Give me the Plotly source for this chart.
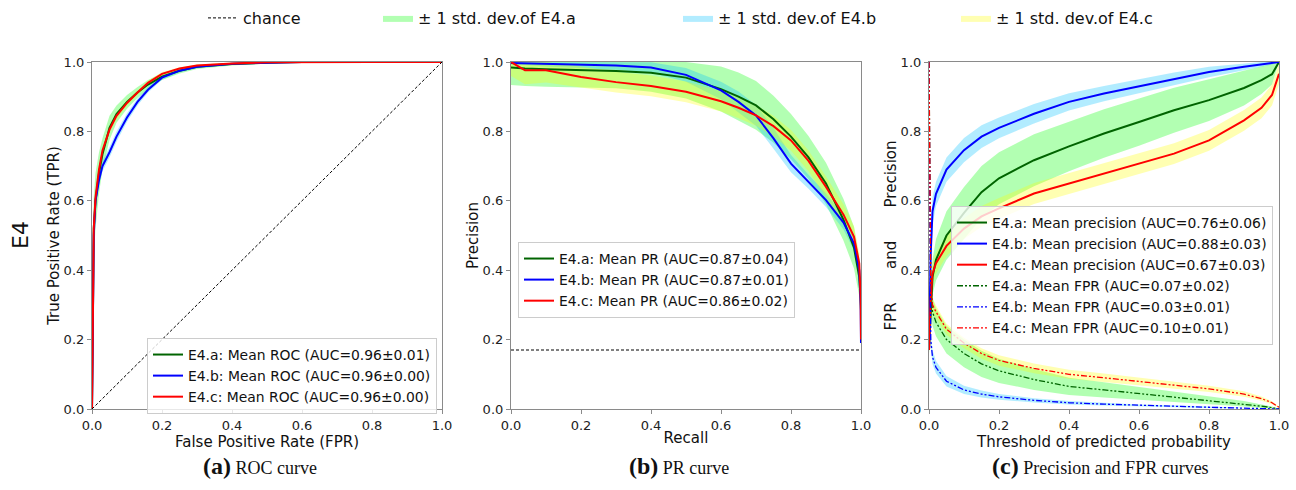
import plotly.graph_objects as go

# ---------------- data ----------------
# (a) ROC curves
roc_fpr = [0, 0.002, 0.005, 0.01, 0.02, 0.03, 0.05, 0.07, 0.1, 0.13, 0.16, 0.2, 0.25, 0.3, 0.4, 0.5, 0.6, 0.8, 1.0]
roc_tpr_a = [0, 0.35, 0.52, 0.60, 0.68, 0.735, 0.81, 0.85, 0.885, 0.912, 0.935, 0.958, 0.975, 0.986, 0.994, 0.998, 1.0, 1.0, 1.0]
roc_std_a = [0, 0.10, 0.09, 0.08, 0.06, 0.045, 0.035, 0.025, 0.02, 0.016, 0.013, 0.01, 0.008, 0.006, 0.004, 0.002, 0.001, 0, 0]
roc_tpr_b = [0, 0.30, 0.50, 0.60, 0.66, 0.70, 0.74, 0.785, 0.84, 0.885, 0.92, 0.955, 0.975, 0.986, 0.995, 0.998, 1.0, 1.0, 1.0]
roc_std_b = [0, 0.03, 0.02, 0.02, 0.015, 0.015, 0.015, 0.015, 0.012, 0.01, 0.008, 0.006, 0.005, 0.004, 0.002, 0.001, 0, 0, 0]
roc_tpr_c = [0, 0.35, 0.52, 0.61, 0.69, 0.745, 0.805, 0.845, 0.882, 0.912, 0.94, 0.966, 0.981, 0.99, 0.996, 0.999, 1.0, 1.0, 1.0]
roc_std_c = [0, 0.03, 0.02, 0.015, 0.012, 0.01, 0.01, 0.01, 0.008, 0.007, 0.006, 0.005, 0.004, 0.003, 0.002, 0.001, 0, 0, 0]
chance_x = [0, 1]
chance_y = [0, 1]

# (b) PR curves
pr_recall = [0, 0.04, 0.1, 0.2, 0.3, 0.4, 0.5, 0.6, 0.65, 0.7, 0.75, 0.8, 0.85, 0.9, 0.95, 0.98, 0.995, 0.999, 1.0]
pr_prec_a = [0.984, 0.981, 0.979, 0.977, 0.974, 0.969, 0.955, 0.922, 0.90, 0.875, 0.835, 0.785, 0.725, 0.65, 0.545, 0.465, 0.38, 0.32, 0.285]
pr_std_a = [0.05, 0.05, 0.05, 0.05, 0.05, 0.055, 0.06, 0.065, 0.07, 0.07, 0.068, 0.065, 0.062, 0.06, 0.06, 0.06, 0.055, 0.05, 0.05]
pr_prec_b = [0.997, 0.996, 0.995, 0.993, 0.99, 0.984, 0.963, 0.918, 0.885, 0.846, 0.78, 0.707, 0.655, 0.602, 0.537, 0.477, 0.40, 0.30, 0.19]
pr_std_b = [0.005, 0.005, 0.008, 0.01, 0.012, 0.015, 0.02, 0.025, 0.03, 0.03, 0.03, 0.025, 0.02, 0.02, 0.02, 0.02, 0.02, 0.015, 0.01]
pr_prec_c = [1.0, 0.976, 0.976, 0.957, 0.942, 0.931, 0.914, 0.887, 0.868, 0.846, 0.815, 0.774, 0.715, 0.64, 0.56, 0.496, 0.42, 0.32, 0.20]
pr_std_c = [0.04, 0.04, 0.035, 0.03, 0.03, 0.03, 0.03, 0.03, 0.03, 0.03, 0.03, 0.03, 0.03, 0.03, 0.03, 0.03, 0.03, 0.03, 0.02]
pr_chance = 0.17

# (c) Precision and FPR vs threshold
thr = [0, 0.005, 0.01, 0.02, 0.05, 0.1, 0.15, 0.2, 0.3, 0.4, 0.5, 0.6, 0.7, 0.8, 0.9, 0.95, 0.98, 1.0]
prec_a = [0.17, 0.30, 0.38, 0.43, 0.50, 0.565, 0.625, 0.665, 0.717, 0.757, 0.794, 0.827, 0.861, 0.89, 0.925, 0.948, 0.965, 1.0]
prec_std_a = [0.01, 0.04, 0.05, 0.06, 0.07, 0.075, 0.075, 0.075, 0.075, 0.072, 0.07, 0.068, 0.065, 0.06, 0.05, 0.04, 0.03, 0.0]
prec_b = [0.17, 0.45, 0.57, 0.62, 0.69, 0.746, 0.785, 0.81, 0.851, 0.885, 0.909, 0.93, 0.952, 0.971, 0.986, 0.993, 0.997, 1.0]
prec_std_b = [0.01, 0.05, 0.04, 0.035, 0.035, 0.035, 0.033, 0.03, 0.028, 0.025, 0.022, 0.02, 0.018, 0.015, 0.01, 0.007, 0.004, 0.0]
prec_c = [0.17, 0.32, 0.39, 0.42, 0.47, 0.52, 0.555, 0.578, 0.621, 0.65, 0.678, 0.707, 0.736, 0.774, 0.832, 0.868, 0.905, 0.966]
prec_std_c = [0.01, 0.03, 0.03, 0.03, 0.03, 0.03, 0.03, 0.03, 0.03, 0.03, 0.03, 0.03, 0.03, 0.03, 0.03, 0.03, 0.03, 0.03]
fpr_a = [1.0, 0.35, 0.28, 0.25, 0.20, 0.16, 0.13, 0.11, 0.085, 0.065, 0.055, 0.045, 0.035, 0.025, 0.015, 0.008, 0.004, 0.0]
fpr_std_a = [0.0, 0.04, 0.04, 0.04, 0.04, 0.04, 0.038, 0.035, 0.03, 0.025, 0.022, 0.018, 0.015, 0.012, 0.008, 0.005, 0.003, 0.0]
fpr_b = [1.0, 0.20, 0.15, 0.12, 0.08, 0.055, 0.043, 0.035, 0.025, 0.018, 0.014, 0.010, 0.008, 0.005, 0.003, 0.002, 0.001, 0.0]
fpr_std_b = [0.0, 0.02, 0.02, 0.018, 0.015, 0.012, 0.01, 0.008, 0.006, 0.005, 0.004, 0.003, 0.003, 0.002, 0.001, 0.001, 0.0, 0.0]
fpr_c = [1.0, 0.36, 0.30, 0.28, 0.23, 0.19, 0.16, 0.14, 0.117, 0.10, 0.09, 0.08, 0.07, 0.058, 0.043, 0.03, 0.018, 0.005]
fpr_std_c = [0.0, 0.02, 0.02, 0.018, 0.016, 0.015, 0.015, 0.015, 0.014, 0.013, 0.012, 0.011, 0.01, 0.009, 0.008, 0.006, 0.004, 0.002]

tick_vals = [0, 0.2, 0.4, 0.6, 0.8, 1.0]
tick_text = ["0.0", "0.2", "0.4", "0.6", "0.8", "1.0"]

series_names = ["E4.a", "E4.b", "E4.c"]
line_colors = ["#006400", "#0000ff", "#ff0000"]
band_colors = ["rgba(0,255,0,0.30)", "rgba(0,191,255,0.30)", "rgba(255,255,0,0.30)"]

# ---------------- figure ----------------
W, H = 1296, 490
fig = go.Figure()

FONT = "DejaVu Sans"


def band(x, mean, std, xa, ya, color, name=None, legend=None, show=False):
    lo = [max(0.0, m - s) for m, s in zip(mean, std)]
    hi = [min(1.0, m + s) for m, s in zip(mean, std)]
    fig.add_trace(go.Scatter(x=x, y=lo, mode="lines", line=dict(width=0), hoverinfo="skip",
                             showlegend=False, xaxis=xa, yaxis=ya))
    fig.add_trace(go.Scatter(x=x, y=hi, mode="lines", line=dict(width=0), fill="tonexty",
                             fillcolor=color, hoverinfo="skip", name=name,
                             showlegend=show, legend=legend if legend else "legend",
                             xaxis=xa, yaxis=ya))


# Panel (a)
roc_means = [roc_tpr_a, roc_tpr_b, roc_tpr_c]
roc_stds = [roc_std_a, roc_std_b, roc_std_c]
top_legends = ["legend2", "legend3", "legend4"]
for i in range(3):
    band(roc_fpr, roc_means[i], roc_stds[i], "x", "y", band_colors[i],
         name="± 1 std. dev.of " + series_names[i], legend=top_legends[i], show=True)
for i in range(3):
    fig.add_trace(go.Scatter(x=roc_fpr, y=roc_means[i], mode="lines",
                             line=dict(color=line_colors[i], width=2),
                             name=f"{series_names[i]}: Mean ROC (AUC=0.96±{['0.01','0.00','0.00'][i]})",
                             legend="legend5", xaxis="x", yaxis="y"))
fig.add_trace(go.Scatter(x=chance_x, y=chance_y, mode="lines",
                         line=dict(color="black", width=1, dash="3px,2px"),
                         name="chance", legend="legend", xaxis="x", yaxis="y"))

# Panel (b)
pr_means = [pr_prec_a, pr_prec_b, pr_prec_c]
pr_stds = [pr_std_a, pr_std_b, pr_std_c]
pr_auc = ["0.87±0.04", "0.87±0.01", "0.86±0.02"]
for i in range(3):
    band(pr_recall, pr_means[i], pr_stds[i], "x2", "y2", band_colors[i])
for i in range(3):
    fig.add_trace(go.Scatter(x=pr_recall, y=pr_means[i], mode="lines",
                             line=dict(color=line_colors[i], width=2),
                             name=f"{series_names[i]}: Mean PR (AUC={pr_auc[i]})",
                             legend="legend6", xaxis="x2", yaxis="y2"))
fig.add_trace(go.Scatter(x=[0, 1], y=[pr_chance, pr_chance], mode="lines",
                         line=dict(color="black", width=1, dash="3px,2px"),
                         showlegend=False, xaxis="x2", yaxis="y2"))

# Panel (c)
p_means = [prec_a, prec_b, prec_c]
p_stds = [prec_std_a, prec_std_b, prec_std_c]
f_means = [fpr_a, fpr_b, fpr_c]
f_stds = [fpr_std_a, fpr_std_b, fpr_std_c]
p_auc = ["0.76±0.06", "0.88±0.03", "0.67±0.03"]
f_auc = ["0.07±0.02", "0.03±0.01", "0.10±0.01"]
for i in range(3):
    band(thr, p_means[i], p_stds[i], "x3", "y3", band_colors[i])
    band(thr, f_means[i], f_stds[i], "x3", "y3", band_colors[i])
for i in range(3):
    fig.add_trace(go.Scatter(x=thr, y=p_means[i], mode="lines",
                             line=dict(color=line_colors[i], width=2),
                             name=f"{series_names[i]}: Mean precision (AUC={p_auc[i]})",
                             legend="legend7", xaxis="x3", yaxis="y3"))
for i in range(3):
    fig.add_trace(go.Scatter(x=thr, y=f_means[i], mode="lines",
                             line=dict(color=line_colors[i], width=1.3, dash="6px,2px,2px,2px,2px,2px"),
                             name=f"{series_names[i]}: Mean FPR (AUC={f_auc[i]})",
                             legend="legend7", xaxis="x3", yaxis="y3"))

# ---------------- layout ----------------
y_dom = [1 - 409 / H, 1 - 62 / H]
x_doms = [[92 / W, 442 / W], [511 / W, 861 / W], [929 / W, 1279 / W]]

axis_common = dict(range=[0, 1], showgrid=False, zeroline=False, showline=True,
                   linecolor="#8a8a8a", linewidth=1.2, mirror=True, ticks="outside",
                   ticklen=4, tickwidth=1, tickcolor="#8a8a8a", tickvals=tick_vals,
                   ticktext=tick_text, tickfont=dict(size=13, color="#222", family=FONT),
                   automargin=False)

x_titles = ["False Positive Rate (FPR)", "Recall", "Threshold of predicted probability"]
nb = "\u00a0" * 7
y_titles = ["True Positive Rate (TPR)", "Precision", "FPR" + nb + "and" + nb + "Precision"]

layout = dict(width=W, height=H, margin=dict(l=0, r=0, t=0, b=0, pad=0),
              paper_bgcolor="white", plot_bgcolor="white",
              font=dict(family=FONT, color="#111"))
for k in range(3):
    sfx = "" if k == 0 else str(k + 1)
    layout["xaxis" + sfx] = dict(axis_common, domain=x_doms[k], anchor="y" + sfx,
                                 title=dict(text=x_titles[k], font=dict(size=15, family=FONT, color="#111"), standoff=0))
    layout["yaxis" + sfx] = dict(axis_common, domain=y_dom, anchor="x" + sfx,
                                 title=dict(text=y_titles[k], font=dict(size=15, family=FONT, color="#111"), standoff=0))

leg_box = dict(bgcolor="rgba(255,255,255,0.8)", bordercolor="#cccccc", borderwidth=1,
               font=dict(size=13.9, family=FONT, color="#111"), xanchor="left", yanchor="top",
               tracegroupgap=0)
layout["legend5"] = dict(leg_box, x=147 / W, y=1 - 338 / H)
layout["legend6"] = dict(leg_box, x=518 / W, y=1 - 242 / H)
layout["legend7"] = dict(leg_box, x=951 / W, y=1 - 206 / H)

top_box = dict(bgcolor="rgba(0,0,0,0)", borderwidth=0, font=dict(size=16, family=FONT, color="#111"),
               xanchor="left", yanchor="middle", y=1 - 18 / H, orientation="h")
layout["legend"] = dict(top_box, x=203 / W)
layout["legend2"] = dict(top_box, x=378 / W)
layout["legend3"] = dict(top_box, x=678 / W)
layout["legend4"] = dict(top_box, x=956 / W)

fig.update_layout(**layout)

# "E4" row label
fig.add_annotation(text="E4", x=20 / W, y=1 - 235 / H, xref="paper", yref="paper",
                   xanchor="center", yanchor="middle",
                   showarrow=False, textangle=-90, font=dict(size=22, family=FONT, color="#111"))

# captions
captions = [("a", "ROC curve", 260), ("b", "PR curve", 679), ("c", "Precision and FPR curves", 1100)]
for letter, txt, cx in captions:
    fig.add_annotation(text=f"<span style='font-size:24px'><b>({letter})</b></span> {txt}",
                       x=cx / W, y=1 - 466 / H, xref="paper", yref="paper", showarrow=False,
                       xanchor="center", yanchor="middle",
                       font=dict(size=18, family="Liberation Serif", color="#111"))

fig.write_html("out.html", config={"displayModeBar": False},
               post_script="document.body.style.margin='0';document.body.style.overflow='hidden';")
